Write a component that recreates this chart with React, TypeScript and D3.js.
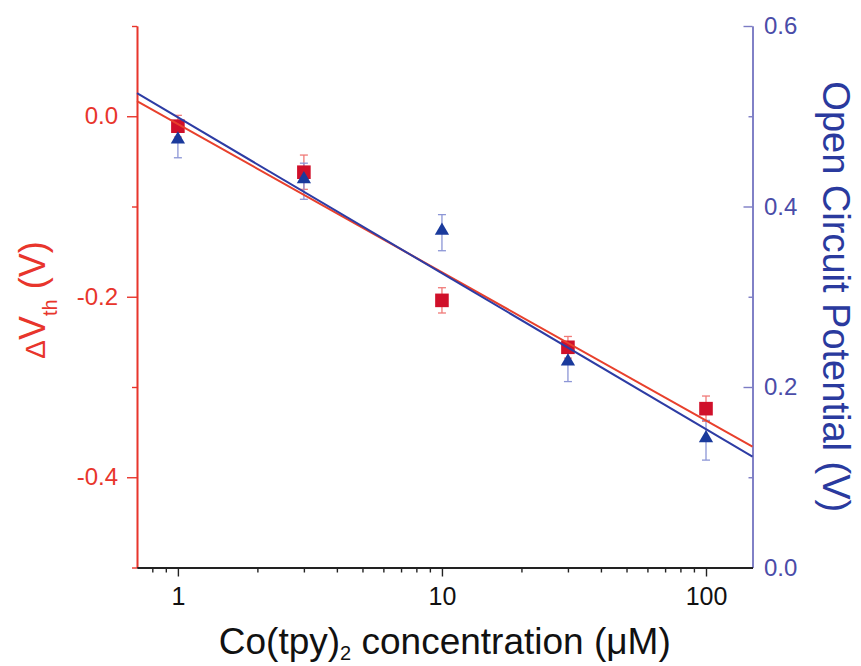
import React, { useEffect, useRef } from "react";
import * as d3 from "d3";

// Co(tpy)2 concentration (uM)
const concentrations = [1, 3, 10, 30, 100];
// threshold voltage shift, left axis (V)
const deltaVth = [-0.011, -0.062, -0.204, -0.256, -0.324];
const deltaVthErr = [0.012, 0.019, 0.014, 0.012, 0.014];
// open circuit potential, right axis (V)
const ocp = [0.472, 0.428, 0.371, 0.226, 0.141];
const ocpErr = [0.018, 0.02, 0.02, 0.02, 0.022];

const xMajor = [1, 10, 100];
const xMinor = [0.8, 0.9, 2, 3, 4, 5, 6, 7, 8, 9, 20, 30, 40, 50, 60, 70, 80, 90];
const leftMajor = [-0.4, -0.2, 0.0];
const leftMinor = [-0.5, -0.3, -0.1, 0.1];
const rightMajor = [0.0, 0.2, 0.4, 0.6];
const rightMinor = [0.1, 0.3, 0.5];

const W = 861;
const H = 666;
const FONT = "'Liberation Sans', Arial, sans-serif";

const RED_AXIS = "#e8352c";
const BLUE_AXIS = "#7c7cc4";
const BLUE_TEXT = "#4a4ca8";
const BLUE_TITLE = "#2a3a9e";

// least squares fit of y against log10(x)
function logFit(xs: number[], ys: number[]) {
  const lx = xs.map(v => Math.log10(v));
  const mx = d3.mean(lx) as number;
  const my = d3.mean(ys) as number;
  const sxy = d3.sum(lx, (v, i) => (v - mx) * (ys[i] - my));
  const sxx = d3.sum(lx, v => (v - mx) * (v - mx));
  const slope = sxy / sxx;
  return (x: number) => my + slope * (Math.log10(x) - mx);
}

export default function App() {
  const ref = useRef<SVGSVGElement>(null);

  useEffect(() => {
    const svg = d3.select(ref.current);
    svg.selectAll("*").remove();

    const x = d3.scaleLog().domain([0.7, 150]).range([137, 752.5]);
    const yL = d3.scaleLinear().domain([-0.5, 0.1]).range([567.5, 26]);
    const yR = d3.scaleLinear().domain([0, 0.6]).range([567.5, 26]);

    const styleAxis = (g, color, textColor, size) => {
      g.select(".domain").attr("stroke", color).attr("stroke-width", 1.6);
      g.selectAll(".tick line").attr("stroke", color).attr("stroke-width", 1.4);
      g.selectAll(".tick text")
        .attr("fill", textColor)
        .attr("font-family", FONT)
        .attr("font-size", size);
    };

    // left axis
    const gl = svg.append("g").attr("transform", `translate(${x.range()[0]},0)`);
    gl.append("g")
      .call(d3.axisLeft(yL).tickValues(leftMinor).tickSize(5).tickSizeOuter(0).tickFormat(() => ""))
      .call(g => styleAxis(g, RED_AXIS, RED_AXIS, 24));
    gl.append("g")
      .call(d3.axisLeft(yL).tickValues(leftMajor).tickSize(10).tickSizeOuter(0).tickPadding(9)
        .tickFormat(d => (+d).toFixed(1)))
      .call(g => styleAxis(g, RED_AXIS, RED_AXIS, 24));

    // right axis, ticks pointing inward
    const gr = svg.append("g").attr("transform", `translate(${x.range()[1]},0)`);
    gr.append("g")
      .call(d3.axisRight(yR).tickValues(rightMinor).tickSizeInner(-4).tickSizeOuter(0).tickFormat(() => ""))
      .call(g => styleAxis(g, BLUE_AXIS, BLUE_TEXT, 24));
    gr.append("g")
      .call(d3.axisRight(yR).tickValues(rightMajor).tickSizeInner(-9).tickSizeOuter(0).tickPadding(11.5)
        .tickFormat(d => (+d).toFixed(1)))
      .call(g => styleAxis(g, BLUE_AXIS, BLUE_TEXT, 24));

    // bottom axis
    const gb = svg.append("g").attr("transform", `translate(0,${yL.range()[0]})`);
    gb.append("g")
      .call(d3.axisBottom(x).tickValues(xMinor).tickSize(5).tickSizeOuter(0).tickFormat(() => ""))
      .call(g => styleAxis(g, "#222", "#111", 25));
    gb.append("g")
      .call(d3.axisBottom(x).tickValues(xMajor).tickSize(9).tickSizeOuter(0).tickPadding(11)
        .tickFormat(d => String(d)))
      .call(g => styleAxis(g, "#222", "#111", 25));
    gb.selectAll(".domain").attr("stroke-width", 2.2);

    const plot = svg.append("g");

    // error bars
    const errorBars = (vals, errs, y, color) => {
      const g = plot.append("g").attr("stroke", color).attr("stroke-width", 1.3).attr("fill", "none");
      concentrations.forEach((c, i) => {
        const cx = x(c);
        const y0 = y(vals[i] - errs[i]);
        const y1 = y(vals[i] + errs[i]);
        g.append("line").attr("x1", cx).attr("x2", cx).attr("y1", y0).attr("y2", y1);
        g.append("line").attr("x1", cx - 4).attr("x2", cx + 4).attr("y1", y0).attr("y2", y0);
        g.append("line").attr("x1", cx - 4).attr("x2", cx + 4).attr("y1", y1).attr("y2", y1);
      });
    };
    errorBars(deltaVth, deltaVthErr, yL, "#f07a78");
    errorBars(ocp, ocpErr, yR, "#8c96d6");

    // markers
    const square = d3.symbol().type(d3.symbolSquare).size(185);
    plot.append("g").selectAll("path")
      .data(concentrations)
      .join("path")
      .attr("transform", (d, i) => `translate(${x(d)},${yL(deltaVth[i])})`)
      .attr("d", square)
      .attr("fill", "#d0102a");

    const tri = d3.symbol().type(d3.symbolTriangle).size(88);
    const triH = Math.sqrt((88 * 4) / Math.sqrt(3)) * Math.sqrt(3) / 2;
    plot.append("g").selectAll("path")
      .data(concentrations)
      .join("path")
      .attr("transform", (d, i) => `translate(${x(d)},${yR(ocp[i]) - triH / 6})`)
      .attr("d", tri)
      .attr("fill", "#1a3a9c");

    // linear fits on log x
    const fitL = logFit(concentrations, deltaVth);
    const fitR = logFit(concentrations, ocp);
    const ends = x.domain();
    plot.append("path")
      .datum(ends)
      .attr("d", d3.line<number>().x(d => x(d)).y(d => yL(fitL(d))))
      .attr("stroke", "#e8402c")
      .attr("stroke-width", 2)
      .attr("fill", "none");
    plot.append("path")
      .datum(ends)
      .attr("d", d3.line<number>().x(d => x(d)).y(d => yR(fitR(d))))
      .attr("stroke", "#2d3ca4")
      .attr("stroke-width", 2)
      .attr("fill", "none");

    // axis titles
    const lt = svg.append("text")
      .attr("transform", `translate(45,300) rotate(-90)`)
      .attr("text-anchor", "middle")
      .attr("fill", RED_AXIS)
      .attr("font-family", FONT)
      .attr("font-size", 36);
    lt.append("tspan").attr("font-size", 28).text("Δ");
    lt.append("tspan").text("V");
    lt.append("tspan").attr("font-size", 20).attr("dy", 12).text("th");
    lt.append("tspan").attr("dy", -12).text(" (V)");

    svg.append("text")
      .attr("transform", `translate(823,${(yR.range()[0] + yR.range()[1]) / 2}) rotate(90)`)
      .attr("text-anchor", "middle")
      .attr("fill", BLUE_TITLE)
      .attr("font-family", FONT)
      .attr("font-size", 38)
      .text("Open Circuit Potential (V)");

    const xt = svg.append("text")
      .attr("x", (x.range()[0] + x.range()[1]) / 2)
      .attr("y", 654)
      .attr("text-anchor", "middle")
      .attr("fill", "#111")
      .attr("font-family", FONT)
      .attr("font-size", 37);
    xt.append("tspan").text("Co(tpy)");
    xt.append("tspan").attr("font-size", 20).attr("dy", 6).text("2");
    xt.append("tspan").attr("dy", -6).text(" concentration (μM)");
  }, []);

  return (
    <svg
      ref={ref}
      width={W}
      height={H}
      style={{ position: "absolute", left: 0, top: 0, background: "#fff" }}
    />
  );
}
